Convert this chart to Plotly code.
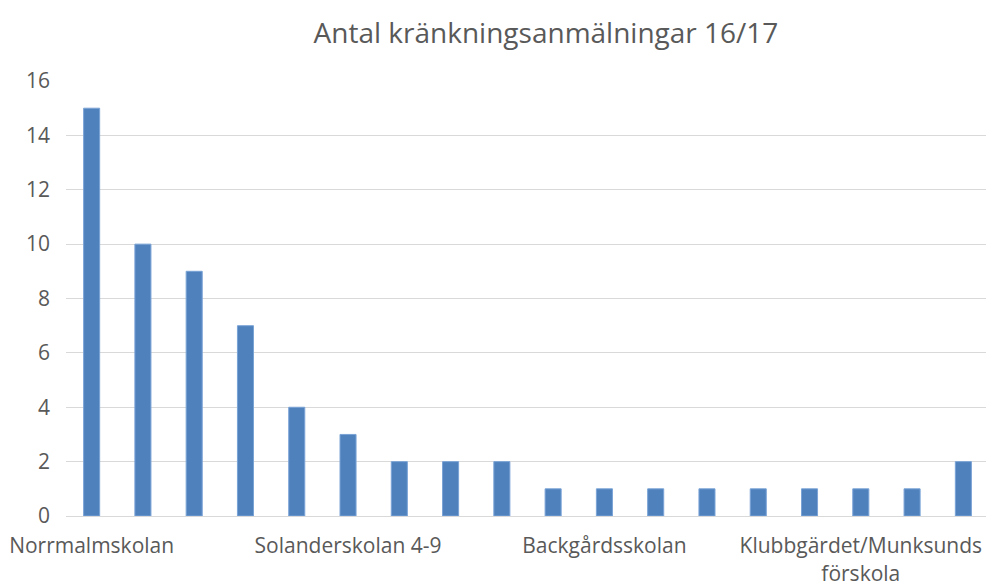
import plotly.graph_objects as go

categories = [
    "Norrmalmskolan", "Skola 2", "Skola 3", "Skola 4", "Skola 5",
    "Solanderskolan 4-9", "Skola 7", "Skola 8", "Skola 9", "Skola 10",
    "Backgårdsskolan", "Skola 12", "Skola 13", "Skola 14", "Skola 15",
    "Klubbgärdet/Munksunds<br>förskola", "Skola 17", "Skola 18",
]
values = [15, 10, 9, 7, 4, 3, 2, 2, 2, 1, 1, 1, 1, 1, 1, 1, 1, 2]
y_ticks = [0, 2, 4, 6, 8, 10, 12, 14, 16]
title_text = "Antal kränkningsanmälningar 16/17"

font_family = "Open Sans, Liberation Sans, sans-serif"
text_color = "#595959"

# plot area runs slightly past the right window edge, as in the reference
W, H = 989, 583

fig = go.Figure(
    go.Bar(
        x=categories,
        y=values,
        marker=dict(color="#4f81bd", line=dict(color="#7aa3d6", width=1)),
    )
)

fig.update_layout(
    width=W,
    height=H,
    paper_bgcolor="white",
    plot_bgcolor="white",
    margin=dict(l=66, r=0, t=81, b=67, pad=0),
    bargap=0.687,
    showlegend=False,
    title=dict(
        text=title_text,
        x=546 / W,
        xref="container",
        xanchor="center",
        y=1 - 33 / H,
        yref="container",
        yanchor="middle",
        font=dict(family=font_family, size=28, color=text_color),
    ),
    font=dict(family=font_family, color=text_color),
)

fig.update_xaxes(
    type="category",
    tickmode="linear",
    tick0=0,
    dtick=5,
    tickangle=0,
    automargin=False,
    showgrid=False,
    showline=True,
    linecolor="#d9d9d9",
    linewidth=1,
    ticks="",
    ticklabelstandoff=11,
    tickfont=dict(family=font_family, size=21, color=text_color),
)

fig.update_yaxes(
    range=[0, 16],
    tickmode="array",
    tickvals=y_ticks,
    automargin=False,
    showgrid=True,
    gridcolor="#d9d9d9",
    gridwidth=1,
    zeroline=False,
    showline=False,
    ticks="",
    ticklabelstandoff=15,
    tickfont=dict(family=font_family, size=21, color=text_color),
)

fig.write_html(
    "out.html",
    config={"displayModeBar": False},
    post_script="document.body.style.margin='0';document.body.style.overflow='hidden';",
)
